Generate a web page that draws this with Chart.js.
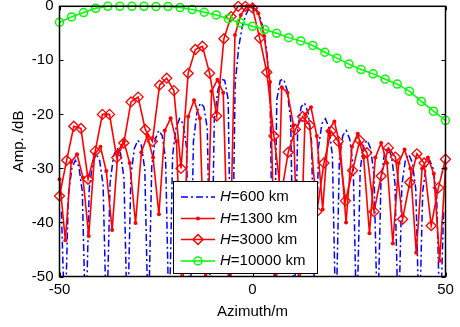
<!DOCTYPE html>
<html>
<head>
<meta charset="utf-8">
<script src="https://cdn.jsdelivr.net/npm/chart.js"></script>
<style>
  body { margin: 0; background: #fff; }
  #wrap { width: 460px; height: 327px; }
</style>
</head>
<body>
<div id="wrap"><canvas id="chart" width="460" height="327"></canvas></div>
<script>
var xTicks = [-50, 0, 50];
var yTicks = [0, -10, -20, -30, -40, -50];
var seriesNames = ['600 km', '1300 km', '3000 km', '10000 km'];

// H=600 km, one value every 0.9 m from -49.5 to 49.5 (nulls fall below -50)
var amp600 = [
  -38, -60, -34.9, -30.0, -28.5, -29.6, -34.2, -60, -33.8, -28.9, -27.4, -28.5, -33.1,
  -60, -32.7, -27.7, -26.2, -27.2, -31.8, -60, -31.3, -26.3, -24.8, -25.7, -30.2,
  -60, -29.7, -24.6, -23.0, -23.9, -28.4, -60, -27.6, -22.5, -20.8, -21.7, -26.0,
  -60, -25.0, -19.7, -17.9, -18.6, -22.7, -60, -21.2, -15.6, -13.5, -13.7, -17.3,
  -60, -14.4, -7.7, -3.9, -1.7, -0.4, 0, -0.4, -1.7, -3.9, -7.7, -14.4,
  -60, -17.3, -13.7, -13.5, -15.6, -21.2, -60, -22.7, -18.6, -17.9, -19.7, -25.0,
  -60, -26.0, -21.7, -20.8, -22.5, -27.6, -60, -28.4, -23.9, -23.0, -24.6, -29.7,
  -60, -30.2, -25.7, -24.8, -26.3, -31.3, -60, -31.8, -27.2, -26.2, -27.7, -32.7,
  -60, -33.1, -28.5, -27.4, -28.9, -33.8, -60, -34.2, -29.6, -28.5, -30.0, -34.9,
  -60, -38
];

// H=1300 km, 67 samples from -50 to 50
var amp1300 = [
  -32, -43.3, -28.8, -27.4, -31.7, -42.5, -27.4, -26, -30.5, -41.4, -26.8, -25, -29,
  -40.1, -27, -24, -28, -38.5, -23, -20.7, -25, -55, -20.4, -17.4, -20.7, -55,
  -15.7, -13.6, -16, -55, -5.3, -1.6, 0, 0, -1.3, -5.5, -14, -55, -15, -16, -22,
  -55, -20, -18.7, -24, -37.6, -23, -21.3, -26, -40, -26, -23.6, -28, -42, -28,
  -25.3, -29, -43.9, -29, -26.5, -30, -45.6, -30, -28, -31, -47.1, -30
];

// H=3000 km, 55 samples from -50 to 50
var amp3000 = [
  -35.1, -28.5, -22.2, -22.6, -32, -26.8, -20, -20, -28, -25.3, -17.7, -16.8, -22.8,
  -25, -14.6, -13.3, -15.6, -30, -12.4, -8, -7.4, -12.4, -20.3, -6, -1.9, 0, 0,
  -0.3, -5.9, -12.2, -24, -35, -27, -22.8, -20.4, -22, -38, -29, -23.1, -25, -36,
  -30.4, -24.8, -27.1, -38, -31.4, -26.2, -27.9, -39.4, -32.6, -27.3, -29, -40.6,
  -33.6, -28.3
];

// H=10000 km, 33 samples from -50 to 50
var amp10000 = [
  -2.95, -1.96, -1.16, -0.37, 0, 0, 0, 0, -0.05, -0.05, -0.24, -0.6, -1.1, -1.6,
  -2.3, -3.06, -3.7, -4.3, -5.0, -5.8, -6.4, -7.25, -8.5, -9.6, -10.7, -11.7,
  -12.5, -13.5, -14.4, -15.7, -17.6, -19.4, -21.1
];

function grid(from, to, n) {
  var a = [];
  for (var i = 0; i < n; i++) a.push(from + (to - from) * i / (n - 1));
  return a;
}
function pts(xs, ys) {
  return ys.map(function (v, i) { return { x: xs[i], y: v }; });
}

var FONT = '"Liberation Sans", Arial, sans-serif';
var BLUE = '#0000ff', RED = '#ff0000', GREEN = '#00ff00';
var dash600 = [7, 3, 2, 3];

var frameAndLegend = {
  id: 'frameAndLegend',
  afterDraw: function (chart) {
    var ctx = chart.ctx, a = chart.chartArea;
    var xs = chart.scales.x, ys = chart.scales.y;
    ctx.save();
    ctx.strokeStyle = '#000';
    ctx.lineWidth = 1.5;
    ctx.strokeRect(a.left, a.top, a.right - a.left, a.bottom - a.top);
    ctx.lineWidth = 1;
    ctx.beginPath();
    yTicks.forEach(function (v) {
      var py = Math.round(ys.getPixelForValue(v)) + 0.5;
      ctx.moveTo(a.left, py); ctx.lineTo(a.left + 4, py);
      ctx.moveTo(a.right, py); ctx.lineTo(a.right - 4, py);
    });
    xTicks.forEach(function (v) {
      var px = Math.round(xs.getPixelForValue(v)) + 0.5;
      ctx.moveTo(px, a.bottom); ctx.lineTo(px, a.bottom - 4);
      ctx.moveTo(px, a.top); ctx.lineTo(px, a.top + 4);
    });
    ctx.stroke();

    // legend box
    var bx = 173.5, by = 181.5, bw = 144, bh = 92;
    ctx.fillStyle = '#fff';
    ctx.fillRect(bx, by, bw, bh);
    ctx.strokeStyle = '#000';
    ctx.lineWidth = 1;
    ctx.strokeRect(bx, by, bw, bh);

    var rows = [197, 218.5, 239.5, 261];
    var colors = [BLUE, RED, RED, GREEN];
    rows.forEach(function (ry, i) {
      ctx.strokeStyle = colors[i];
      ctx.lineWidth = 1.5;
      ctx.setLineDash(i === 0 ? dash600 : []);
      ctx.beginPath(); ctx.moveTo(181, ry); ctx.lineTo(215, ry); ctx.stroke();
      ctx.setLineDash([]);
      var mx = 198;
      if (i === 1) {
        ctx.fillStyle = RED;
        ctx.beginPath(); ctx.arc(mx, ry, 2, 0, Math.PI * 2); ctx.fill();
      } else if (i === 2) {
        ctx.beginPath();
        ctx.moveTo(mx, ry - 5); ctx.lineTo(mx + 5, ry); ctx.lineTo(mx, ry + 5); ctx.lineTo(mx - 5, ry);
        ctx.closePath(); ctx.stroke();
      } else if (i === 3) {
        ctx.beginPath(); ctx.arc(mx, ry, 4, 0, Math.PI * 2); ctx.stroke();
      }
      ctx.fillStyle = '#000';
      ctx.textBaseline = 'middle';
      ctx.textAlign = 'left';
      ctx.font = 'italic 15px ' + FONT;
      ctx.fillText('H', 220, ry);
      var w = ctx.measureText('H').width;
      ctx.font = '15px ' + FONT;
      ctx.fillText('=' + seriesNames[i], 220 + w, ry);
    });
    ctx.restore();
  }
};

var clipBox = { left: 6, top: 6, right: 6, bottom: 0 };

Chart.defaults.color = '#000';
Chart.defaults.font.family = FONT;
Chart.defaults.font.size = 15;

new Chart(document.getElementById('chart'), {
  type: 'line',
  data: {
    datasets: [
      {
        label: 'H=' + seriesNames[0],
        data: pts(grid(-49.5, 49.5, amp600.length), amp600),
        borderColor: BLUE, borderWidth: 1.5, borderDash: dash600,
        pointRadius: 0, tension: 0, clip: clipBox, order: 3
      },
      {
        label: 'H=' + seriesNames[1],
        data: pts(grid(-50, 50, amp1300.length), amp1300),
        borderColor: RED, borderWidth: 1.6,
        pointRadius: 2, pointBackgroundColor: RED, pointBorderWidth: 0,
        tension: 0, clip: clipBox, order: 2
      },
      {
        label: 'H=' + seriesNames[2],
        data: pts(grid(-50, 50, amp3000.length), amp3000),
        borderColor: RED, borderWidth: 1.6,
        pointStyle: 'rectRot', pointRadius: 5, pointBorderWidth: 1.3,
        pointBackgroundColor: 'rgba(0,0,0,0)', pointBorderColor: RED,
        tension: 0, clip: clipBox, order: 1
      },
      {
        label: 'H=' + seriesNames[3],
        data: pts(grid(-50, 50, amp10000.length), amp10000),
        borderColor: GREEN, borderWidth: 1.5,
        pointStyle: 'circle', pointRadius: 4, pointBorderWidth: 1.5,
        pointBackgroundColor: 'rgba(0,0,0,0)', pointBorderColor: GREEN,
        tension: 0, clip: clipBox, order: 0
      }
    ]
  },
  options: {
    responsive: false,
    animation: false,
    layout: { padding: { left: 0, right: 14.5, top: 4.5, bottom: 0 } },
    plugins: { legend: { display: false }, tooltip: { enabled: false } },
    scales: {
      x: {
        type: 'linear', min: -50, max: 50,
        afterBuildTicks: function (s) { s.ticks = xTicks.map(function (v) { return { value: v }; }); },
        afterFit: function (s) { s.height = 50.5; s.paddingLeft = 0; s.paddingRight = 0; },
        ticks: { padding: 4.5, maxRotation: 0, font: { size: 15 } },
        grid: { display: false, drawTicks: false },
        border: { display: false },
        title: { display: true, text: 'Azimuth/m', font: { size: 15 }, padding: { top: 0, bottom: 6.5 } }
      },
      y: {
        min: -50, max: 0,
        afterBuildTicks: function (s) { s.ticks = yTicks.map(function (v) { return { value: v }; }); },
        afterFit: function (s) { s.width = 59.5; s.paddingTop = 0; s.paddingBottom = 0; },
        ticks: { padding: 6, font: { size: 15 } },
        grid: { display: false, drawTicks: false },
        border: { display: false },
        title: { display: true, text: 'Amp. /dB', font: { size: 15 }, padding: { top: 10, bottom: 0 } }
      }
    }
  },
  plugins: [frameAndLegend]
});
</script>
</body>
</html>
